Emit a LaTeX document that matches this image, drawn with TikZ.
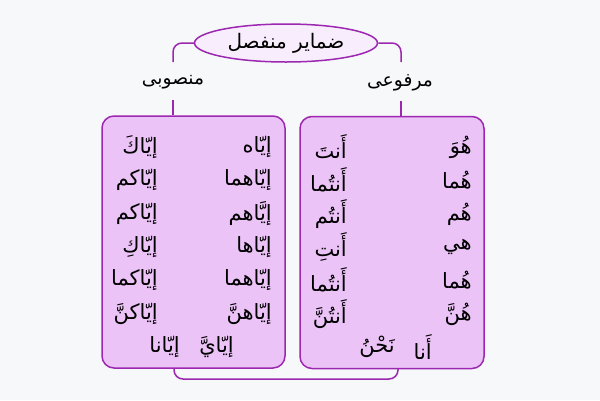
\documentclass[tikz,border=0pt]{standalone}
\usepackage{fontspec}
\TeXXeTstate=1
\newfontfamily\arabicfont[Script=Arabic]{DejaVu Sans}
\usetikzlibrary{shapes.geometric}
\definecolor{bg}{HTML}{F7F8FA}
\definecolor{pline}{HTML}{9C27B0}
\definecolor{boxfill}{HTML}{ECC3F7}
\definecolor{ellfill}{HTML}{F8EDFC}
\tikzset{
  conn/.style={draw=pline, line width=1.5pt, rounded corners=9pt},
  panel/.style={draw=pline, line width=1.5pt, fill=boxfill, rounded corners=12pt, minimum width=183pt, minimum height=252pt, inner sep=0pt},
  ar/.style={font=\arabicfont\fontsize{21}{24}\selectfont, inner sep=0pt, text=black},
  lbl/.style={font=\arabicfont\fontsize{18.7}{22}\selectfont, inner sep=0pt, text=black},
}
\newcommand{\AR}[1]{\beginR #1\endR}
\begin{document}
\begin{tikzpicture}[x=1pt,y=-1pt]
\useasboundingbox (0,0) rectangle (600,400);
\fill[bg] (0,0) rectangle (600,400);
% title
\node[ellipse, draw=pline, line width=1.5pt, fill=ellfill, minimum width=183pt, minimum height=38pt, inner sep=0pt,
      font=\arabicfont\fontsize{20}{22}\selectfont] (title) at (286,43) {\AR{ضماير منفصل}};
% labels
\node[lbl] (lblL) at (173,82) {\AR{منصوبی}};
\node[lbl] (lblR) at (400,83) {\AR{مرفوعی}};
% connectors (bottom)
\coordinate (bL) at (174,360);
\coordinate (bR) at (398,360);
\draw[conn] (bL) -- (174,379) -- (398,379) -- (bR);
% panels
\node[panel] (boxL) at (193.5,242) {};
\node[panel, minimum width=184pt] (boxR) at (392,242.5) {};
% connectors (top)
\coordinate (tL) at (173,62);
\coordinate (tR) at (401,62);
\draw[conn] (title.west) -| (tL);
\draw[conn] (title.east) -| (tR);
\coordinate (uL) at (173,100);
\coordinate (uR) at (401,101);
\draw[conn] (uL) -- (uL |- boxL.north);
\draw[conn] (uR) -- (uR |- boxR.north);
% left panel texts
\foreach \y/\a/\b in {147/إيّاه/إيّاكَ, 180/إيّاهما/إيّاكم, 214/إيَّاهم/إيّاكم, 247/إيّاها/إيّاكِ, 280/إيّاهما/إيّاكما, 314/إيّاهنَّ/إيّاكنَّ}{
  \node[ar, anchor=east] at (272,\y) {\AR{\a}};
  \node[ar, anchor=east] at (158,\y) {\AR{\b}};
}
\node[ar, anchor=east] (lr7a) at (234,347) {\AR{إيّايَّ}};
\node[ar, anchor=east] (lr7b) at (180,347) {\AR{إيّانا}};
% right panel texts
\foreach \y/\a/\b in {147/هُوَ/أَنتَ, 180/هُما/أَنتُما, 214/هُم/أَنتُم, 247/هي/أَنتِ, 280/هُما/أَنتُما, 314/هُنَّ/أَنتُنَّ}{
  \node[ar, anchor=east] at (472,\y) {\AR{\a}};
  \node[ar, anchor=east] at (347,\y) {\AR{\b}};
}
\node[ar, anchor=east] (rr7a) at (432,347) {\AR{أَنا}};
\node[ar, anchor=east] (rr7b) at (395,347) {\AR{نَحْنُ}};
\end{tikzpicture}
\end{document}
